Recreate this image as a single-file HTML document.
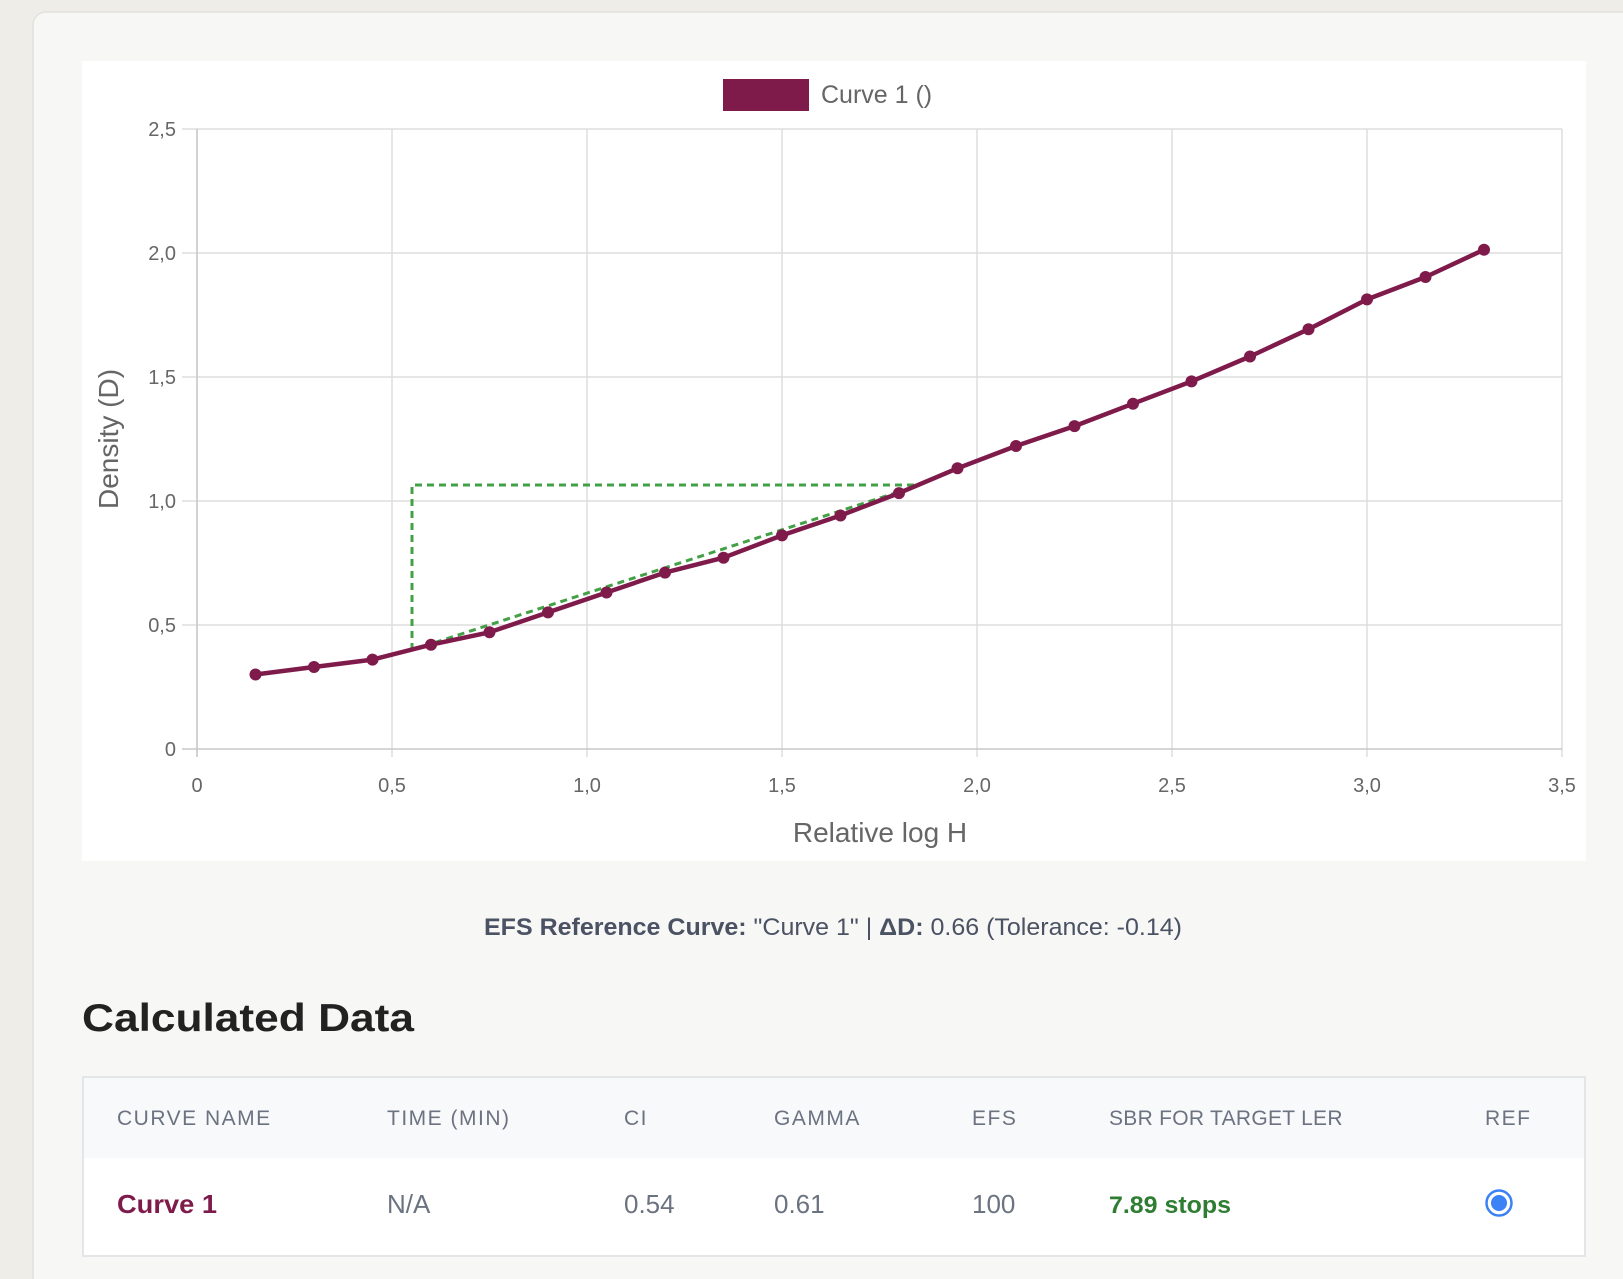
<!DOCTYPE html>
<html><head><meta charset="utf-8"><style>
html,body{margin:0;padding:0;background:#eeede8;}
svg{display:block;}
</style></head><body>
<svg width="1623" height="1279" xmlns="http://www.w3.org/2000/svg" font-family="Liberation Sans, sans-serif">
<rect x="0" y="0" width="1623" height="1279" fill="#eeede8"/>
<rect x="33" y="12" width="1610" height="1300" rx="13" fill="#f7f7f5" stroke="#e2e1dc" stroke-width="1.5"/>
<rect x="82" y="61" width="1504" height="800" fill="#ffffff"/>
<!-- grid -->
<g stroke="#dddddd" stroke-width="1.5">
<line x1="197" y1="129" x2="197" y2="757"/>
<line x1="392" y1="129" x2="392" y2="757"/>
<line x1="587" y1="129" x2="587" y2="757"/>
<line x1="782" y1="129" x2="782" y2="757"/>
<line x1="977" y1="129" x2="977" y2="757"/>
<line x1="1172" y1="129" x2="1172" y2="757"/>
<line x1="1367" y1="129" x2="1367" y2="757"/>
<line x1="1562" y1="129" x2="1562" y2="757"/>
<line x1="182" y1="129" x2="1562" y2="129"/>
<line x1="182" y1="253" x2="1562" y2="253"/>
<line x1="182" y1="377" x2="1562" y2="377"/>
<line x1="182" y1="501" x2="1562" y2="501"/>
<line x1="182" y1="625" x2="1562" y2="625"/>
</g>
<line x1="197" y1="129" x2="197" y2="757" stroke="#c8c8c8" stroke-width="1.5"/>
<line x1="182" y1="749" x2="1562" y2="749" stroke="#c8c8c8" stroke-width="1.5"/>
<!-- y ticks -->
<g fill="#666" font-size="20" text-anchor="end">
<text x="176" y="136">2,5</text>
<text x="176" y="260">2,0</text>
<text x="176" y="384">1,5</text>
<text x="176" y="508">1,0</text>
<text x="176" y="632">0,5</text>
<text x="176" y="756">0</text>
</g>
<g fill="#666" font-size="20" text-anchor="middle">
<text x="197" y="792">0</text>
<text x="392" y="792">0,5</text>
<text x="587" y="792">1,0</text>
<text x="782" y="792">1,5</text>
<text x="977" y="792">2,0</text>
<text x="1172" y="792">2,5</text>
<text x="1367" y="792">3,0</text>
<text x="1562" y="792">3,5</text>
</g>
<text x="880" y="842" fill="#666" font-size="28" text-anchor="middle">Relative log H</text>
<text transform="translate(118,439) rotate(-90)" fill="#666" font-size="28" text-anchor="middle">Density (D)</text>
<!-- legend -->
<rect x="723" y="79" width="86" height="32" fill="#7f1b4b"/>
<text x="821" y="103" fill="#666" font-size="25">Curve 1 ()</text>
<!-- green dashed -->
<g stroke="#43a047" stroke-width="3" stroke-dasharray="7,5" fill="none">
<polyline points="412,650 412,485 920,485"/>
<line x1="412" y1="650" x2="920" y2="485"/>
</g>
<!-- curve -->
<polyline fill="none" stroke="#7f1b4b" stroke-width="4.5" stroke-linejoin="round" points="255.5,674.5 314,667 372.5,659.6 431,644.7 489.5,632.3 548,612.4 606.5,592.5 665,572.6 723.5,557.7 782,535.4 840.5,515.5 899,493.1 957.5,468.3 1016,446 1074.5,426.1 1133,403.7 1191.5,381.4 1250,356.5 1308.5,329.2 1367,299.4 1425.5,277 1484,249.7"/>
<g fill="#7f1b4b">
<circle cx="255.5" cy="674.5" r="6"/><circle cx="314" cy="667" r="6"/><circle cx="372.5" cy="659.6" r="6"/><circle cx="431" cy="644.7" r="6"/><circle cx="489.5" cy="632.3" r="6"/><circle cx="548" cy="612.4" r="6"/><circle cx="606.5" cy="592.5" r="6"/><circle cx="665" cy="572.6" r="6"/><circle cx="723.5" cy="557.7" r="6"/><circle cx="782" cy="535.4" r="6"/><circle cx="840.5" cy="515.5" r="6"/><circle cx="899" cy="493.1" r="6"/><circle cx="957.5" cy="468.3" r="6"/><circle cx="1016" cy="446" r="6"/><circle cx="1074.5" cy="426.1" r="6"/><circle cx="1133" cy="403.7" r="6"/><circle cx="1191.5" cy="381.4" r="6"/><circle cx="1250" cy="356.5" r="6"/><circle cx="1308.5" cy="329.2" r="6"/><circle cx="1367" cy="299.4" r="6"/><circle cx="1425.5" cy="277" r="6"/><circle cx="1484" cy="249.7" r="6"/>
</g>
<!-- EFS line -->
<text x="484" y="935" font-size="24" fill="#4a5263" textLength="698" lengthAdjust="spacingAndGlyphs"><tspan font-weight="bold">EFS Reference Curve:</tspan> "Curve 1" | <tspan font-weight="bold">ΔD:</tspan> 0.66 (Tolerance: -0.14)</text>
<!-- heading -->
<text x="82" y="1031" font-size="39" font-weight="bold" fill="#222" textLength="332" lengthAdjust="spacingAndGlyphs">Calculated Data</text>
<!-- table -->
<rect x="83" y="1077" width="1502" height="179" fill="#ffffff" stroke="#e4e5e9" stroke-width="2"/>
<rect x="84" y="1078" width="1500" height="80" fill="#f8f9fb"/>
<g fill="#6b7280" font-size="21" letter-spacing="1.5">
<text x="117" y="1125">CURVE NAME</text>
<text x="387" y="1125">TIME (MIN)</text>
<text x="624" y="1125">CI</text>
<text x="774" y="1125">GAMMA</text>
<text x="972" y="1125">EFS</text>
<text x="1109" y="1125" textLength="235">SBR FOR TARGET LER</text>
<text x="1485" y="1125">REF</text>
</g>
<g font-size="26" fill="#6b7280">
<text x="117" y="1213" fill="#7f1b4b" font-weight="bold" textLength="100" lengthAdjust="spacingAndGlyphs">Curve 1</text>
<text x="387" y="1213">N/A</text>
<text x="624" y="1213">0.54</text>
<text x="774" y="1213">0.61</text>
<text x="972" y="1213">100</text>
<text x="1109" y="1213" fill="#2e7d32" font-weight="bold" font-size="24" textLength="122" lengthAdjust="spacingAndGlyphs">7.89 stops</text>
</g>
<circle cx="1499" cy="1203" r="12.5" fill="#fff" stroke="#3b82f6" stroke-width="2.5"/>
<circle cx="1499" cy="1203" r="8" fill="#3b82f6"/>
</svg>
</body></html>
